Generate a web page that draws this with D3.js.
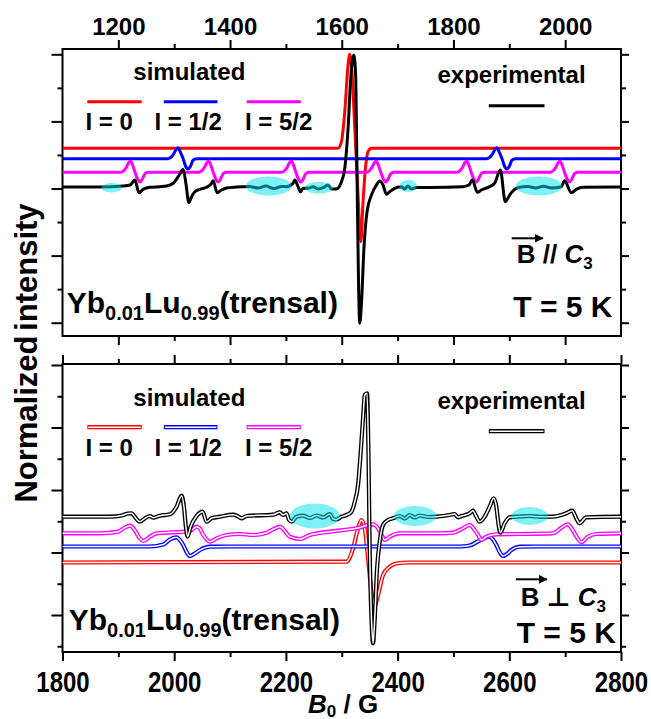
<!DOCTYPE html>
<html>
<head>
<meta charset="utf-8">
<script src="https://cdnjs.cloudflare.com/ajax/libs/d3/7.8.5/d3.min.js"></script>
<style>
body { margin: 0; background: #fff; }
text { font-family: "Liberation Sans", Arial, "DejaVu Sans", sans-serif; font-weight: bold; fill: #000; }
.tick line { stroke: #000; stroke-width: 2; }
</style>
</head>
<body>
<div id="chart"></div>
<script>
var svgWidth = 651;
var svgHeight = 719;

// ---- data ----
var topField = [1100, 2100];
var botField = [1800, 2800];
var topMajorX = [1200, 1400, 1600, 1800, 2000];
var topMinorX = [1300, 1500, 1700, 1900];
var botMajorX = [1800, 2000, 2200, 2400, 2600, 2800];
var botMinorX = [1900, 2100, 2300, 2500, 2700];
var topMajorY = [0, 1, 2, 3, 4];
var topMinorY = [0.5, 1.5, 2.5, 3.5];
var botMajorY = [0, 1, 2, 3, 4];
var botMinorY = [-0.5, 0.5, 1.5, 2.5, 3.5];
var seriesNames = ["I = 0", "I = 1/2", "I = 5/2"];
var seriesColors = ["#ff0000", "#0000ff", "#ff00ff"];

// B || C3, field (G) vs normalized intensity (offset)
var topRed = [[1100,2.60],[1593,2.60],[1599.5,2.70],[1605.4,3.145],[1611.3,3.84],[1614.3,4.0],
  [1618.5,3.70],[1623.3,2.90],[1629.2,1.90],[1634.1,1.207],[1638.1,1.80],[1643,2.35],[1647.1,2.55],
  [1653.2,2.60],[2100,2.60]];
var topBlue = [[1100,2.444],
  [1289,2.444],[1298,2.50],[1304,2.59],[1307,2.608],[1310,2.56],[1316,2.444],[1321,2.32],[1325,2.29],[1329,2.33],[1334,2.425],[1340,2.444],
  [1860,2.444],[1869,2.50],[1875,2.59],[1878,2.608],[1881,2.56],[1887,2.444],[1892,2.32],[1896,2.29],[1900,2.33],[1905,2.425],[1911,2.444],
  [2100,2.444]];
var topMagenta = [[1100,2.241],
  [1204,2.241],[1213,2.30],[1219,2.39],[1222,2.41],[1225,2.36],[1230,2.24],[1235,2.13],[1239,2.097],[1243,2.14],[1248,2.225],[1254,2.241],
  [1344,2.241],[1353,2.30],[1359,2.39],[1362,2.41],[1365,2.36],[1370,2.24],[1375,2.13],[1379,2.097],[1383,2.14],[1388,2.225],[1394,2.241],
  [1492,2.241],[1501,2.30],[1507,2.39],[1510,2.41],[1513,2.36],[1518,2.24],[1523,2.13],[1527,2.097],[1531,2.14],[1536,2.225],[1542,2.241],
  [1644,2.241],[1653,2.30],[1659,2.39],[1662,2.41],[1665,2.36],[1670,2.24],[1675,2.13],[1679,2.097],[1683,2.14],[1688,2.225],[1694,2.241],
  [1806,2.241],[1815,2.30],[1821,2.39],[1824,2.41],[1827,2.36],[1832,2.24],[1837,2.13],[1841,2.097],[1845,2.14],[1850,2.225],[1856,2.241],
  [1973,2.241],[1982,2.30],[1988,2.39],[1991,2.41],[1994,2.36],[1999,2.24],[2004,2.13],[2008,2.097],[2012,2.14],[2017,2.225],[2023,2.241],
  [2100,2.241]];
var topBlack = [[1100,2.022],[1167,2.022],[1208.8,2.037],[1220.8,2.052],[1229.7,2.127],[1236.9,1.937],
  [1244.6,1.988],[1256.5,2.018],[1274.4,2.027],[1286.4,2.037],[1298.2,2.078],[1307.2,2.176],[1316.1,2.286],
  [1320.9,2.078],[1326.3,1.788],[1331.1,1.878],[1337,1.952],[1346,1.988],[1358,2.018],[1366.9,2.078],
  [1369.8,2.116],[1376.9,1.937],[1384.8,1.978],[1393.8,2.007],[1411.6,2.022],
  [1435.4,2.03],[1449.7,2.007],[1464,2.037],[1478.4,2.0],[1492.7,2.03],[1501.1,2.027],
  [1512.9,2.078],[1515.9,2.127],[1521.8,2.027],[1526.1,1.952],[1530.8,2.003],
  [1539.7,2.003],[1548.7,2.027],[1557.6,1.993],[1566.6,2.012],[1575.5,2.052],[1581.6,1.993],
  [1590.5,1.993],[1599.5,2.101],[1605.4,2.301],[1611.3,2.897],[1616.1,3.642],[1621.5,3.99],
  [1625.1,3.647],[1627.4,2.156],[1629.9,0.666],[1632.2,-0.009],[1635.8,0.368],[1639.4,1.058],
  [1645.3,1.654],[1653.2,1.903],[1662.1,2.052],[1668,2.112],[1673.9,2.052],[1680,1.914],
  [1685.9,1.952],[1694.8,2.003],[1706.8,2.027],[1712.7,1.993],[1718.6,2.037],[1724.7,1.993],
  [1733.7,2.015],[1757.5,2.015],[1817,2.027],[1827.8,2.052],[1833.8,2.127],[1842.8,1.943],
  [1850,1.978],[1861.8,2.018],[1873.7,2.078],[1883.9,2.276],[1892.9,1.803],[1900.6,1.903],
  [1909.5,1.988],[1918.5,2.018],[1932.8,2.03],[1947.1,2.007],[1961.4,2.034],[1975.7,2.007],
  [1993.1,2.027],[1999,2.116],[2011,1.937],[2019.9,1.988],[2031.7,2.018],[2100,2.022]];
// highlighted spots: [centre field, centre value, half width (G), half height]
var topSpots = [[1188,2.012,18.4,0.07],[1469,2.037,41,0.142],[1559,2.012,25,0.089],
  [1719,2.037,15.6,0.089],[1953,2.037,41.7,0.142]];

// B perpendicular C3
var botRed = [[1800,0.84],[2308.4,0.853],[2320.3,1.067],[2329.2,1.387],[2335.3,1.52],[2341.2,1.387],
  [2347.1,0.907],[2353.2,0.373],[2359.1,0.16],[2365,0.32],[2373.9,0.64],[2385.9,0.773],
  [2397.9,0.824],[2420,0.84],[2800,0.84]];
var botBlue = [[1800,1.096],[1956.5,1.096],[1980.3,1.128],[1992.3,1.208],[2004.3,1.243],[2010.1,1.2],
  [2016.1,1.12],[2022.2,1.008],[2028.1,0.944],[2037,0.984],[2046,1.04],[2063.9,1.093],[2099.7,1.096],
  [2511.2,1.096],[2529.1,1.112],[2547,1.192],[2564.8,1.253],[2570.7,1.208],[2576.8,1.12],
  [2582.7,1.008],[2588.6,0.944],[2597,0.984],[2603.6,1.04],[2618.5,1.093],[2654.3,1.096],[2800,1.096]];
var botMagenta = [[1800,1.307],[1867.1,1.307],[1899.8,1.333],[1910,1.392],[1920.8,1.429],[1927.1,1.384],
  [1932.7,1.307],[1938.6,1.224],[1944.6,1.184],[1956.5,1.253],[1968.5,1.307],[1998.2,1.323],
  [2019.2,1.333],[2031.1,1.36],[2040.1,1.413],[2046,1.384],[2051.9,1.28],[2058,1.208],[2063.9,1.173],
  [2075.9,1.227],[2093.7,1.28],[2117.5,1.296],[2141.3,1.28],[2165.3,1.317],[2178.4,1.376],
  [2189.2,1.413],[2196.5,1.36],[2207,1.253],[2224.9,1.216],[2242.8,1.28],[2278.6,1.333],
  [2326.3,1.387],[2356,1.451],[2364.9,1.387],[2371.6,1.28],[2377,1.2],[2385.9,1.253],[2403.8,1.307],
  [2475.4,1.307],[2499.1,1.317],[2517,1.387],[2529,1.44],[2537.9,1.36],[2544.2,1.28],[2549.9,1.2],
  [2558.9,1.253],[2576.8,1.291],[2618.5,1.296],[2678,1.307],[2695.9,1.413],[2704.9,1.451],
  [2711.5,1.384],[2716.9,1.307],[2723.1,1.216],[2728.8,1.163],[2740.7,1.253],[2755.7,1.296],[2800,1.307]];
var botBlack = [[1800,1.573],[1885,1.573],[1906.4,1.592],[1917.2,1.624],[1923.8,1.627],[1929.7,1.568],
  [1938.6,1.493],[1947.6,1.547],[1956.5,1.584],[1962.4,1.557],[1974.4,1.589],[1992.3,1.611],
  [2004.3,1.733],[2013.2,1.909],[2017.4,1.733],[2020.9,1.413],[2024,1.253],[2029.4,1.413],
  [2040.1,1.584],[2050.8,1.653],[2058,1.493],[2066.9,1.547],[2081.8,1.573],[2105.6,1.605],
  [2113.1,1.584],[2120.6,1.547],[2129.5,1.584],[2177.1,1.605],[2189.1,1.643],[2195,1.6],
  [2201.1,1.627],[2205.7,1.52],[2210.6,1.493],[2219,1.573],[2230.8,1.589],[2242.8,1.552],
  [2254.8,1.592],[2266.6,1.56],[2278.6,1.616],[2284.5,1.536],[2290.5,1.528],[2299.5,1.573],
  [2308.4,1.6],[2317.4,1.653],[2323.3,1.813],[2329.2,2.08],[2334,2.613],[2338.1,3.147],
  [2341.2,3.52],[2345.3,3.547],[2347.8,2.613],[2350.1,1.013],[2353.2,-0.053],[2356,-0.453],
  [2359.1,-0.053],[2363.2,0.747],[2368,1.173],[2373.9,1.44],[2382.9,1.52],[2391.8,1.547],
  [2403.8,1.584],[2412.7,1.544],[2421.7,1.6],[2430.6,1.56],[2439.6,1.592],[2453.9,1.568],
  [2469.4,1.573],[2493.2,1.6],[2502.2,1.616],[2508.1,1.563],[2514.2,1.584],[2529,1.627],
  [2534.9,1.669],[2541,1.573],[2546.9,1.493],[2555.8,1.573],[2564.8,1.733],[2572,1.867],
  [2576.8,1.733],[2579.7,1.52],[2583.9,1.317],[2591.6,1.467],[2600.6,1.563],[2618.5,1.576],
  [2636.4,1.584],[2654.3,1.571],[2678,1.573],[2702,1.627],[2712.7,1.669],[2719.9,1.547],
  [2725.8,1.467],[2737.8,1.563],[2800,1.573]];
var botSpots = [[2251.7,1.584,44.7,0.2],[2431.2,1.584,38.1,0.16],[2636.4,1.584,32.7,0.144]];

// ---- layout ----
var left = 62.5, right = 621;
var topBox = {top: 49, bottom: 336};
var botBox = {top: 364, bottom: 652};

var svg = d3.select("#chart")
  .append("svg")
  .attr("width", svgWidth)
  .attr("height", svgHeight);

var defs = svg.append("defs");
defs.append("marker")
  .attr("id", "arrow")
  .attr("viewBox", "0 0 10 10")
  .attr("refX", 9).attr("refY", 5)
  .attr("markerWidth", 4.5).attr("markerHeight", 4.5)
  .attr("markerUnits", "strokeWidth")
  .attr("orient", "auto")
  .append("path")
  .attr("d", "M0,0 L10,5 L0,10 z")
  .attr("fill", "#000");

var xTop = d3.scaleLinear().domain(topField).range([left, right]);
var yTop = d3.scaleLinear().domain([-0.198, 4.079]).range([topBox.bottom, topBox.top]);
var xBot = d3.scaleLinear().domain(botField).range([left, right]);
var yBot = d3.scaleLinear().domain([-0.592, 4.016]).range([botBox.bottom, botBox.top]);

function addClip(id, box) {
  defs.append("clipPath").attr("id", id)
    .append("rect")
    .attr("x", left).attr("y", box.top)
    .attr("width", right - left).attr("height", box.bottom - box.top);
}
addClip("clipTop", topBox);
addClip("clipBot", botBox);

function drawTicks(g, axis, values, size, transform) {
  var a = g.append("g")
    .attr("transform", transform)
    .call(axis.tickValues(values).tickSize(size).tickFormat(""));
  a.select(".domain").remove();
  return a;
}

function drawFrame(x, y, box, majorX, minorX, majorY, minorY) {
  var g = svg.append("g");
  drawTicks(g, d3.axisTop(x), minorX, 5, `translate(0,${box.top})`);
  drawTicks(g, d3.axisBottom(x), minorX, 5, `translate(0,${box.bottom})`);
  drawTicks(g, d3.axisLeft(y), minorY, 5, `translate(${left},0)`);
  drawTicks(g, d3.axisRight(y), minorY, 5, `translate(${right},0)`);
  drawTicks(g, d3.axisLeft(y), majorY, 11, `translate(${left},0)`);
  drawTicks(g, d3.axisRight(y), majorY, 8, `translate(${right},0)`);
  var t = drawTicks(g, d3.axisTop(x), majorX, 9, `translate(0,${box.top})`);
  var b = drawTicks(g, d3.axisBottom(x), majorX, 9, `translate(0,${box.bottom})`);
  g.append("rect")
    .attr("x", left).attr("y", box.top)
    .attr("width", right - left).attr("height", box.bottom - box.top)
    .attr("fill", "none").attr("stroke", "#000").attr("stroke-width", 2);
  return {topAxis: t, bottomAxis: b};
}

function drawCurve(g, data, x, y, color, hollow) {
  var line = d3.line()
    .x(d => x(d[0]))
    .y(d => y(d[1]))
    .curve(d3.curveMonotoneX);
  g.append("path")
    .datum(data)
    .attr("d", line)
    .attr("fill", "none")
    .attr("stroke", color)
    .attr("stroke-width", hollow ? 4.2 : 3)
    .attr("stroke-linejoin", "round");
  if (hollow) {
    g.append("path")
      .datum(data)
      .attr("d", line)
      .attr("fill", "none")
      .attr("stroke", "#fff")
      .attr("stroke-width", 1.5)
      .attr("stroke-linejoin", "round");
  }
}

function drawSpots(g, spots, x, y) {
  g.selectAll("ellipse.spot")
    .data(spots)
    .enter()
    .append("ellipse")
    .attr("class", "spot")
    .attr("cx", d => x(d[0]))
    .attr("cy", d => y(d[1]))
    .attr("rx", d => x(d[0] + d[2]) - x(d[0]))
    .attr("ry", d => y(d[1] - d[3]) - y(d[1]))
    .attr("fill", "rgb(0,226,236)")
    .attr("opacity", 0.5);
}

function legendLine(g, x1, x2, yy, color, hollow) {
  g.append("line")
    .attr("x1", x1).attr("x2", x2).attr("y1", yy).attr("y2", yy)
    .attr("stroke", color).attr("stroke-width", hollow ? 4.2 : 3);
  if (hollow) {
    g.append("line")
      .attr("x1", x1 + 1).attr("x2", x2 - 1).attr("y1", yy).attr("y2", yy)
      .attr("stroke", "#fff").attr("stroke-width", 1.5);
  }
}

function drawLegend(dy, hollow) {
  var g = svg.append("g").attr("transform", `translate(0,${dy})`);
  g.append("text").attr("x", 133.3).attr("y", 80).style("font-size", "24px").text("simulated");
  var lineX = [[87.3, 141.7], [163.8, 217.5], [246.7, 300.8]];
  var textX = [85.4, 154.5, 245];
  seriesNames.forEach(function(name, i) {
    legendLine(g, lineX[i][0], lineX[i][1], 101.7, seriesColors[i], hollow);
    g.append("text").attr("x", textX[i]).attr("y", 130).style("font-size", "24px").text(name);
  });
  g.append("text").attr("x", 437.5).attr("y", 83.3).style("font-size", "24px").text("experimental");
  legendLine(g, 488.8, 544.5, 105.7, "#000", hollow);
  return g;
}

function drawSample(xx, yy) {
  var t = svg.append("text").attr("x", xx).attr("y", yy).style("font-size", "30px");
  t.append("tspan").text("Yb");
  t.append("tspan").attr("dy", 7).style("font-size", "20px").text("0.01");
  t.append("tspan").attr("dy", -7).text("Lu");
  t.append("tspan").attr("dy", 7).style("font-size", "20px").text("0.99");
  t.append("tspan").attr("dy", -7).text("(trensal)");
}

function drawOrientation(xx, yy, symbol, arrowY) {
  svg.append("line")
    .attr("x1", xx - 5).attr("x2", xx + 26)
    .attr("y1", arrowY).attr("y2", arrowY)
    .attr("stroke", "#000").attr("stroke-width", 2)
    .attr("marker-end", "url(#arrow)");
  var t = svg.append("text").attr("x", xx).attr("y", yy).style("font-size", "26px");
  t.append("tspan").text("B");
  t.append("tspan").text(" " + symbol + " ");
  t.append("tspan").style("font-style", "italic").text("C");
  t.append("tspan").attr("dy", 6).style("font-size", "17px").text("3");
}

// ---- top panel (B // C3) ----
var topAxes = drawFrame(xTop, yTop, topBox, topMajorX, topMinorX, topMajorY, topMinorY);
topAxes.topAxis.selectAll(".tick")
  .append("text")
  .attr("y", -14)
  .attr("text-anchor", "middle")
  .style("font-size", "24px")
  .text(d => d);

var topPlot = svg.append("g").attr("clip-path", "url(#clipTop)");
drawCurve(topPlot, topRed, xTop, yTop, seriesColors[0], false);
drawCurve(topPlot, topBlue, xTop, yTop, seriesColors[1], false);
drawCurve(topPlot, topMagenta, xTop, yTop, seriesColors[2], false);
drawCurve(topPlot, topBlack, xTop, yTop, "#000", false);
drawSpots(topPlot, topSpots, xTop, yTop);

drawLegend(0, false);
drawSample(66.7, 313.3);
drawOrientation(516.7, 263.3, "//", 238.3);
svg.append("text").attr("x", 513.3).attr("y", 316.7).style("font-size", "30px").text("T = 5 K");

// ---- bottom panel (B perpendicular C3) ----
var botAxes = drawFrame(xBot, yBot, botBox, botMajorX, botMinorX, botMajorY, botMinorY);
botAxes.bottomAxis.selectAll(".tick")
  .append("text")
  .attr("transform", "translate(0,40) scale(1,1.2)")
  .attr("text-anchor", "middle")
  .style("font-size", "24px")
  .text(d => d);

var botPlot = svg.append("g").attr("clip-path", "url(#clipBot)");
drawCurve(botPlot, botRed, xBot, yBot, seriesColors[0], true);
drawCurve(botPlot, botBlue, xBot, yBot, seriesColors[1], true);
drawCurve(botPlot, botMagenta, xBot, yBot, seriesColors[2], true);
drawCurve(botPlot, botBlack, xBot, yBot, "#000", true);
drawSpots(botPlot, botSpots, xBot, yBot);

drawLegend(325.5, true);
drawSample(68.7, 630);
drawOrientation(520.8, 606, "\u22A5", 579.3);
svg.append("text").attr("x", 516.7).attr("y", 643.3).style("font-size", "30px").text("T = 5 K");

// ---- axis titles ----
svg.append("text")
  .attr("transform", "translate(37,353) rotate(-90)")
  .attr("text-anchor", "middle")
  .style("font-size", "31px")
  .style("word-spacing", "-4px")
  .text("Normalized intensity");

var xt = svg.append("text").attr("x", 308).attr("y", 713).style("font-size", "26px");
xt.append("tspan").style("font-style", "italic").text("B");
xt.append("tspan").attr("dy", 4).style("font-size", "17px").text("0");
xt.append("tspan").attr("dy", -4).text(" / G");
</script>
</body>
</html>
